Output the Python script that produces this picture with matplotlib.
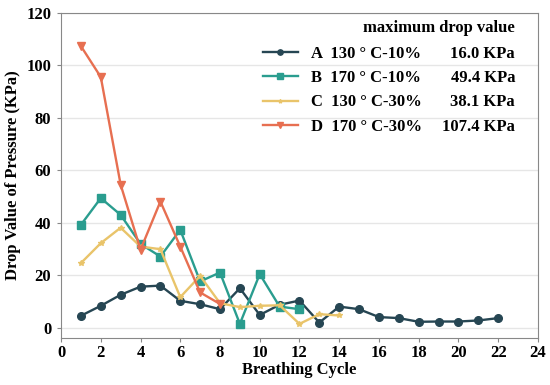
import matplotlib
matplotlib.use("Agg")
import matplotlib.pyplot as plt

plt.rcParams['font.family'] = ['Liberation Serif', 'DejaVu Serif']
plt.rcParams['font.weight'] = 'bold'

# data
cycles_a = list(range(1, 23))
drop_a = [4.5, 8.3, 12.5, 15.6, 16.0, 10.2, 8.9, 7.0, 15.0, 4.8, 8.7, 10.3,
          1.9, 8.0, 7.0, 4.0, 3.6, 2.2, 2.3, 2.3, 2.7, 3.6]
cycles_b = list(range(1, 13))
drop_b = [39.2, 49.4, 43.0, 31.9, 27.1, 37.3, 17.6, 21.0, 1.4, 20.4, 8.0, 7.0]
cycles_c = list(range(1, 15))
drop_c = [24.6, 32.2, 38.1, 30.9, 29.9, 11.6, 19.7, 9.3, 7.8, 8.3, 8.5, 1.4, 5.1, 4.6]
cycles_d = list(range(1, 9))
drop_d = [107.4, 95.6, 54.5, 29.7, 48.1, 30.9, 13.4, 9.0]

labels = ["A  130 ° C-10%", "B  170 ° C-10%", "C  130 ° C-30%", "D  170 ° C-30%"]
max_values = ["16.0 KPa", "49.4 KPa", "38.1 KPa", "107.4 KPa"]
colors = ["#264653", "#2a9d8f", "#e9c46a", "#e76f51"]
markers = ["o", "s", "*", "v"]

fig = plt.figure(figsize=(5.5, 3.85), dpi=100)
ax = fig.add_axes([0.111, 0.122, 0.867, 0.844])

series = [(cycles_a, drop_a), (cycles_b, drop_b), (cycles_c, drop_c), (cycles_d, drop_d)]
sizes = [5.5, 5.5, 4, 5.5]
for (x, y), lab, c, m, ms in zip(series, labels, colors, markers, sizes):
    ax.plot(x, y, color=c, marker=m, markersize=ms, linewidth=1.7, label=lab)

ax.set_xlim(0, 24)
ax.set_ylim(-4, 120)
ax.set_xticks(range(0, 25, 2))
ax.set_yticks(range(0, 121, 20))
ax.yaxis.grid(True, color="#e6e6e6", linewidth=1)
ax.set_axisbelow(True)
ax.tick_params(axis='both', direction='out', length=3, labelsize=12, pad=2, color="#888888")
ax.tick_params(axis='y', pad=4)
for s in ax.spines.values():
    s.set_color("#888888")

ax.set_xlabel("Breathing Cycle", fontsize=12, fontweight='bold', labelpad=1)
ax.set_ylabel("Drop Value of Pressure (KPa)", fontsize=12, fontweight='bold', labelpad=4)

leg = ax.legend(loc='upper left', bbox_to_anchor=(0.405, 0.925), frameon=False,
                handlelength=2.1, labelspacing=0.5, borderpad=0, markerscale=0.7,
                handletextpad=0.8, prop={'weight': 'bold', 'size': 12})

ax.text(0.952, 0.953, "maximum drop value", transform=ax.transAxes, ha='right', va='center',
        fontsize=12, fontweight='bold')

# put the max values on the same rows as the legend entries
fig.canvas.draw()
inv = ax.transAxes.inverted()
for t, v in zip(leg.get_texts(), max_values):
    bb = t.get_window_extent()
    yy = inv.transform((0, (bb.y0 + bb.y1) / 2))[1]
    ax.text(0.952, yy, v, transform=ax.transAxes, ha='right', va='center',
            fontsize=12, fontweight='bold')

fig.savefig("out.png", dpi=100)
